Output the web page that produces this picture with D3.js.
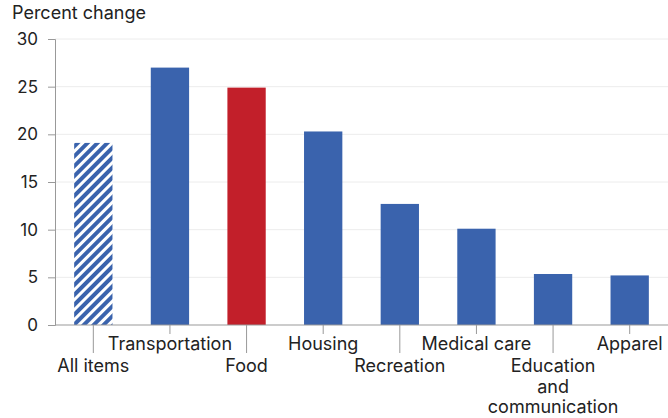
<!DOCTYPE html>
<html>
<head>
<meta charset="utf-8">
<script src="https://d3js.org/d3.v7.min.js"></script>
<style>
  body { margin: 0; background: #fff; }
  svg { display: block; font-family: Inter, "Liberation Sans", sans-serif; }
</style>
</head>
<body>
<div id="chart"></div>
<script>
// data
const categories = ["All items", "Transportation", "Food", "Housing", "Recreation", "Medical care", "Education and communication", "Apparel"];
const labelLines = [["All items"], ["Transportation"], ["Food"], ["Housing"], ["Recreation"], ["Medical care"], ["Education", "and", "communication"], ["Apparel"]];
const values = [19.1, 27.0, 24.9, 20.3, 12.7, 10.1, 5.35, 5.2];
const yTicks = [0, 5, 10, 15, 20, 25, 30];

const width = 668, height = 418;
const margin = {top: 39, right: 0, bottom: 93, left: 55};

const svg = d3.select("#chart").append("svg")
  .attr("width", width).attr("height", height);

// hatch pattern for "All items"
const defs = svg.append("defs");
const pat = defs.append("pattern")
  .attr("id", "hatch")
  .attr("patternUnits", "userSpaceOnUse")
  .attr("width", 7).attr("height", 7)
  .attr("patternTransform", "rotate(45)");
pat.append("rect").attr("width", 7).attr("height", 7).attr("fill", "#fff");
pat.append("rect").attr("width", 4).attr("height", 7).attr("fill", "#3a63ad");

const x = d3.scaleBand()
  .domain(categories)
  .range([margin.left, width - margin.right])
  .paddingInner(0.5).paddingOuter(0.25);

const y = d3.scaleLinear()
  .domain([0, 30])
  .range([height - margin.bottom, margin.top]);

// gridlines
svg.append("g")
  .selectAll("line")
  .data(yTicks.filter(d => d > 0))
  .join("line")
  .attr("x1", margin.left).attr("x2", width)
  .attr("y1", d => y(d)).attr("y2", d => y(d))
  .attr("stroke", "#ececec").attr("stroke-width", 1);

// y axis
const yAxis = svg.append("g")
  .attr("transform", `translate(${margin.left},0)`)
  .call(d3.axisLeft(y).tickValues(yTicks).tickSize(7).tickPadding(10));
yAxis.select(".domain").attr("stroke", "#999");
yAxis.selectAll(".tick line").attr("stroke", "#999");
yAxis.selectAll(".tick text")
  .attr("font-size", 17).attr("fill", "#222")
  .attr("font-family", "Inter, 'Liberation Sans', sans-serif");

// bars
svg.append("g")
  .selectAll("rect")
  .data(values)
  .join("rect")
  .attr("x", (d, i) => x(categories[i]))
  .attr("width", x.bandwidth())
  .attr("y", d => y(d))
  .attr("height", d => y(0) - y(d))
  .attr("fill", (d, i) => i === 0 ? "url(#hatch)" : (i === 2 ? "#c21f2a" : "#3a63ad"));

// x axis line
svg.append("line")
  .attr("x1", margin.left).attr("x2", width)
  .attr("y1", y(0)).attr("y2", y(0))
  .attr("stroke", "#999");

// staggered category ticks + labels
const xg = svg.append("g");
categories.forEach((c, i) => {
  const cx = x(c) + x.bandwidth() / 2;
  const low = i % 2 === 0;
  xg.append("line")
    .attr("x1", cx).attr("x2", cx)
    .attr("y1", y(0)).attr("y2", y(0) + (low ? 28 : 9))
    .attr("stroke", "#999");
  const t = xg.append("text")
    .attr("text-anchor", "middle")
    .attr("font-size", 18).attr("fill", "#222");
  labelLines[i].forEach((ln, j) => {
    t.append("tspan")
      .attr("x", cx)
      .attr("y", y(0) + (low ? 47 : 25) + j * 20.5)
      .text(ln);
  });
});

// y axis title
svg.append("text")
  .attr("x", 12).attr("y", 19)
  .attr("font-size", 18).attr("fill", "#222")
  .text("Percent change");
</script>
</body>
</html>
